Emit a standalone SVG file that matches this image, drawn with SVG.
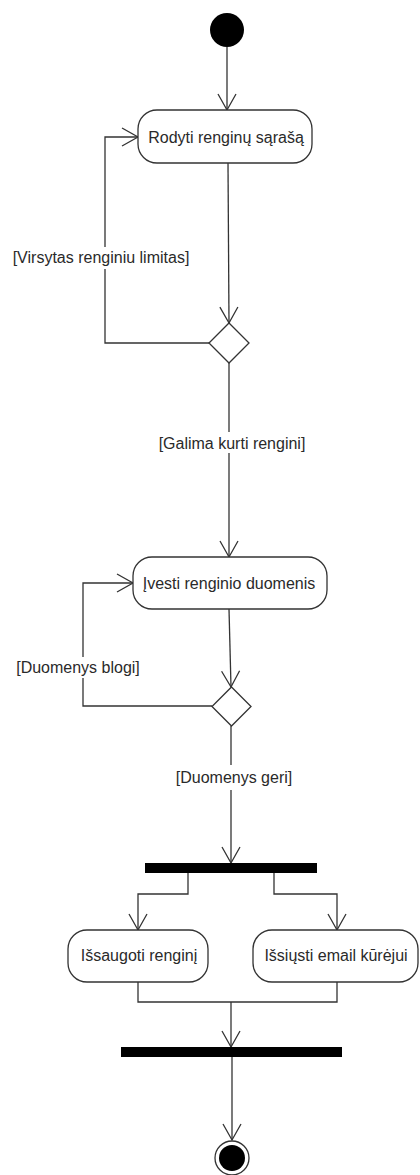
<svg xmlns="http://www.w3.org/2000/svg" width="420" height="1175" viewBox="0 0 420 1175">
  <style>
    .bg { fill: #ffffff; }
    .flow { fill: none; stroke: #333333; stroke-width: 1.3; }
    .action { fill: #ffffff; stroke: #333333; stroke-width: 1.3; }
    .decision { fill: #ffffff; stroke: #333333; stroke-width: 1.3; }
    .bar { fill: #000000; }
    .label { font-family: "Liberation Sans", Arial, sans-serif; font-size: 16px; fill: #2a2a2a; text-anchor: middle; }
    .guard-bg { fill: #ffffff; }
  </style>
  <defs>
    <marker id="open-arrow" markerUnits="userSpaceOnUse" markerWidth="20" markerHeight="22" refX="17" refY="10" orient="auto">
      <path d="M1,1 L17,10 L1,19" fill="none" stroke="#333333" stroke-width="1.3"/>
    </marker>
  </defs>

  <rect class="bg" x="0" y="0" width="420" height="1175"/>

  <!-- connectors -->
  <g id="connectors">
    <path class="flow" d="M227,47 L227,110" marker-end="url(#open-arrow)"/>
    <path class="flow" d="M228,163 L229,323" marker-end="url(#open-arrow)"/>
    <path class="flow" d="M209,343 L105,343 L105,137 L138,137" marker-end="url(#open-arrow)"/>
    <path class="flow" d="M229,363 L229,557" marker-end="url(#open-arrow)"/>
    <path class="flow" d="M229,609 L231,687" marker-end="url(#open-arrow)"/>
    <path class="flow" d="M212,706 L83,706 L83,583 L133,583" marker-end="url(#open-arrow)"/>
    <path class="flow" d="M231,726 L231,863" marker-end="url(#open-arrow)"/>
    <path class="flow" d="M188,873 L188,894 L138,894 L138,930" marker-end="url(#open-arrow)"/>
    <path class="flow" d="M274,873 L274,894 L337,894 L337,930" marker-end="url(#open-arrow)"/>
    <path class="flow" d="M138,982 L138,1002 L337,1002 L337,982"/>
    <path class="flow" d="M231,1002 L231,1047" marker-end="url(#open-arrow)"/>
    <path class="flow" d="M232,1057 L232,1140" marker-end="url(#open-arrow)"/>

    <!-- guard labels -->
    <g id="guard-limit">
      <rect class="guard-bg" x="10" y="247" width="182" height="22"/>
      <text class="label" x="101" y="263">[Virsytas renginiu limitas]</text>
    </g>
    <g id="guard-create">
      <rect class="guard-bg" x="156" y="432" width="152" height="21"/>
      <text class="label" x="232" y="449">[Galima kurti rengini]</text>
    </g>
    <g id="guard-bad">
      <rect class="guard-bg" x="15" y="657" width="127" height="21"/>
      <text class="label" x="78" y="673">[Duomenys blogi]</text>
    </g>
    <g id="guard-good">
      <rect class="guard-bg" x="173" y="765" width="122" height="25"/>
      <text class="label" x="234" y="783">[Duomenys geri]</text>
    </g>
  </g>

  <!-- initial node -->
  <g id="start">
    <circle cx="227" cy="30" r="17" fill="#000000"/>
  </g>

  <g id="show-list">
    <rect class="action" x="138" y="110" width="174" height="53" rx="19" ry="19"/>
    <text class="label" x="226" y="143">Rodyti renginų sąrašą</text>
  </g>

  <g id="decision-limit">
    <polygon class="decision" points="229,323 249,343 229,363 209,343"/>
  </g>

  <g id="enter-data">
    <rect class="action" x="133" y="557" width="194" height="52" rx="19" ry="19"/>
    <text class="label" x="229" y="589">Įvesti renginio duomenis</text>
  </g>

  <g id="decision-data">
    <polygon class="decision" points="231.5,687 251,706.5 231.5,726 212,706.5"/>
  </g>

  <g id="fork">
    <rect class="bar" x="145" y="863" width="172" height="10"/>
  </g>

  <g id="save-event">
    <rect class="action" x="68" y="930" width="140" height="52" rx="19" ry="19"/>
    <text class="label" x="139" y="961">Išsaugoti renginį</text>
  </g>

  <g id="send-email">
    <rect class="action" x="253" y="930" width="165" height="52" rx="19" ry="19"/>
    <text class="label" x="336" y="961">Išsiųsti email kūrėjui</text>
  </g>

  <g id="join">
    <rect class="bar" x="121" y="1047" width="221" height="10"/>
  </g>

  <!-- final node -->
  <g id="end">
    <circle cx="232" cy="1158" r="17" fill="#ffffff" stroke="#333333" stroke-width="1.3"/>
    <circle cx="232" cy="1158" r="13" fill="#000000"/>
  </g>
</svg>
